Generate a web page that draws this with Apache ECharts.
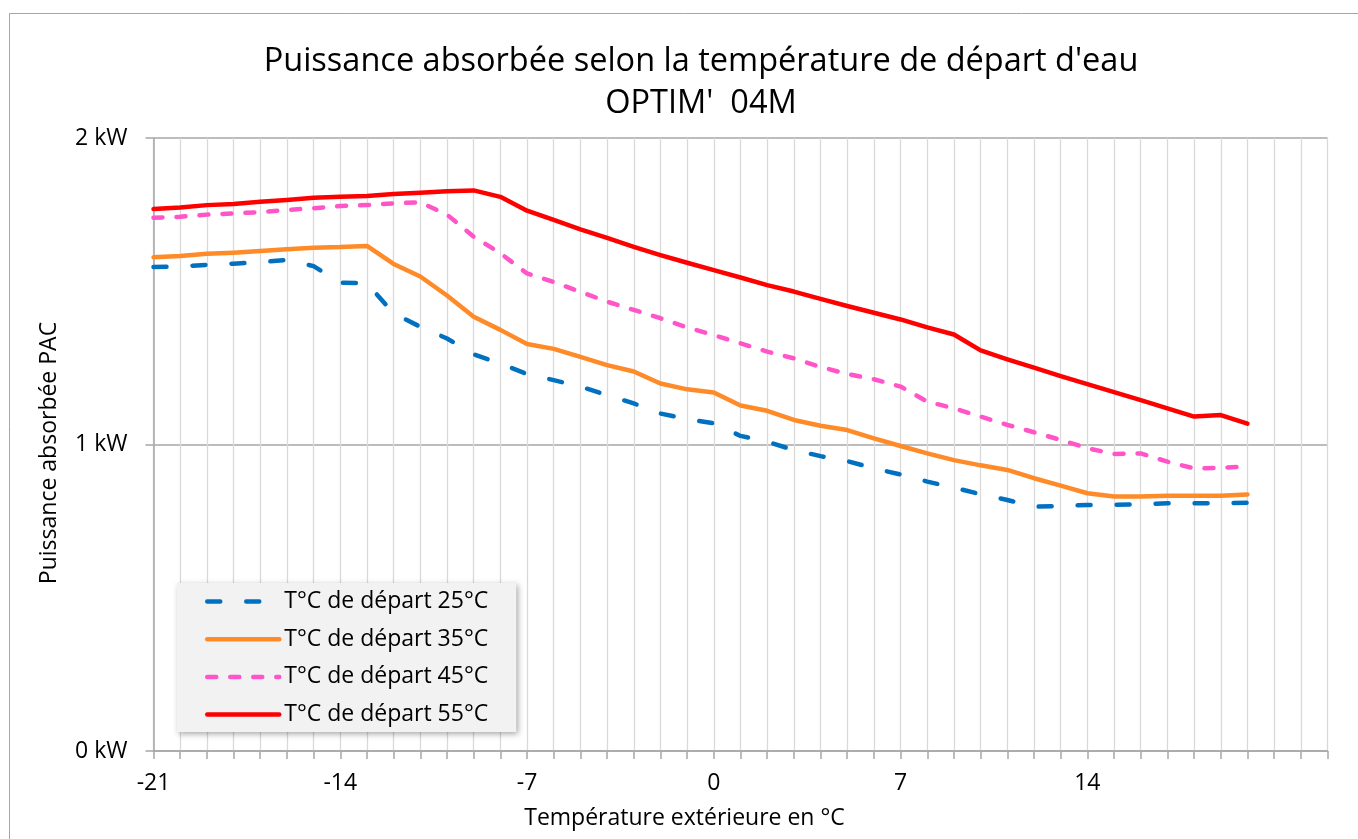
<!DOCTYPE html>
<html>
<head>
<meta charset="utf-8">
<script src="https://cdn.jsdelivr.net/npm/echarts@6/dist/echarts.min.js"></script>
<style>
html,body{margin:0;padding:0;background:#fff;}
#chart{width:1358px;height:839px;}
</style>
</head>
<body>
<div id="chart"></div>
<script>
const temperatures = [-21,-20,-19,-18,-17,-16,-15,-14,-13,-12,-11,-10,-9,-8,-7,-6,-5,-4,-3,-2,-1,0,1,2,3,4,5,6,7,8,9,10,11,12,13,14,15,16,17,18,19,20];
const seriesNames = ['T°C de départ 25°C','T°C de départ 35°C','T°C de départ 45°C','T°C de départ 55°C'];
const depart25 = [1.579,1.581,1.586,1.590,1.595,1.602,1.582,1.528,1.526,1.428,1.384,1.346,1.294,1.264,1.230,1.210,1.189,1.161,1.134,1.101,1.083,1.069,1.028,1.009,0.982,0.962,0.946,0.922,0.902,0.879,0.859,0.838,0.819,0.797,0.799,0.803,0.803,0.805,0.808,0.808,0.808,0.810];
const depart35 = [1.611,1.615,1.622,1.626,1.631,1.637,1.642,1.644,1.648,1.589,1.548,1.486,1.417,1.374,1.328,1.312,1.286,1.259,1.238,1.199,1.180,1.170,1.127,1.110,1.080,1.061,1.047,1.020,0.995,0.971,0.949,0.932,0.917,0.890,0.866,0.841,0.830,0.830,0.833,0.833,0.833,0.837];
const depart45 = [1.740,1.743,1.750,1.754,1.758,1.765,1.771,1.778,1.781,1.787,1.790,1.750,1.678,1.624,1.558,1.530,1.498,1.466,1.439,1.412,1.382,1.357,1.330,1.303,1.281,1.253,1.230,1.213,1.189,1.140,1.118,1.091,1.064,1.040,1.015,0.988,0.969,0.971,0.944,0.922,0.924,0.928];
const depart55 = [1.768,1.773,1.781,1.785,1.792,1.798,1.805,1.808,1.811,1.817,1.821,1.826,1.829,1.808,1.763,1.733,1.702,1.674,1.645,1.618,1.593,1.569,1.545,1.520,1.499,1.475,1.452,1.430,1.408,1.382,1.359,1.307,1.278,1.251,1.223,1.197,1.171,1.145,1.118,1.091,1.096,1.068];
const xTickLabels = [-21,-14,-7,0,7,14];
const yTickLabels = ['0 kW','1 kW','2 kW'];

const FONT = 'Open Sans';
function pts(vals){ return temperatures.map((t,i)=>[t, vals[i]]); }

const chart = echarts.init(document.getElementById('chart'), null, {renderer:'canvas'});
chart.setOption({
  animation:false,
  backgroundColor:'#fff',
  graphic:[{type:'rect', shape:{x:9.5,y:13.5,width:1400,height:900}, style:{fill:'none',stroke:'#a6a6a6',lineWidth:1}, z:-1}],
  title:{
    text:'Puissance absorbée selon la température de départ d\'eau\nOPTIM\'  04M',
    left:696, top:36, textAlign:'center',
    textStyle:{fontFamily:FONT,fontSize:32.5,fontWeight:'normal',color:'#000',lineHeight:42}
  },
  grid:{left:153.5, right:30.5, top:138, bottom:88, containLabel:false},
  legend:{
    orient:'vertical', left:177, top:583,
    backgroundColor:'#f2f2f2',
    shadowBlur:6, shadowColor:'rgba(0,0,0,0.35)', shadowOffsetX:2, shadowOffsetY:2,
    padding:[7,28,6,28],
    itemWidth:72, itemHeight:14, itemGap:14.7,
    itemStyle:{opacity:0},
    lineStyle:{width:4.5},
    textStyle:{fontFamily:FONT,fontSize:23,color:'#000'},
    data:seriesNames
  },
  xAxis:{
    type:'value', min:-21, max:23, interval:1,
    name:'Température extérieure en °C', nameLocation:'middle', nameGap:56,
    nameTextStyle:{fontFamily:FONT,fontSize:23,color:'#000',padding:[0,112,0,0]},
    axisLine:{show:true,onZero:false,lineStyle:{color:'#a6a6a6',width:1.5}},
    axisTick:{show:true,length:8,inside:false,lineStyle:{color:'#a6a6a6',width:1.5}},
    splitLine:{show:true,lineStyle:{color:'#d9d9d9',width:1.3}},
    axisLabel:{
      margin:21, fontFamily:FONT, fontSize:23, color:'#000',
      formatter:v=> xTickLabels.indexOf(v) >= 0 ? String(v) : ''
    }
  },
  yAxis:{
    type:'value', min:0, max:2, interval:1,
    name:'Puissance absorbée PAC', nameLocation:'middle', nameGap:93, nameRotate:90,
    nameTextStyle:{fontFamily:FONT,fontSize:23,color:'#000',padding:[0,17,0,0]},
    axisLine:{show:true,onZero:false,lineStyle:{color:'#a6a6a6',width:1.5}},
    axisTick:{show:true,length:8,lineStyle:{color:'#a6a6a6',width:1.5}},
    splitLine:{show:true,lineStyle:{color:'#a6a6a6',width:1.5}},
    axisLabel:{margin:26,fontFamily:FONT,fontSize:23,color:'#000',formatter:v=>yTickLabels[Math.round(v)]}
  },
  series:[
    {name:seriesNames[0],type:'line',data:pts(depart25),symbol:'none',
     lineStyle:{color:'#0070c0',width:4.5,type:[13,26],cap:'round',join:'round'},itemStyle:{color:'#0070c0'}},
    {name:seriesNames[1],type:'line',data:pts(depart35),symbol:'none',
     lineStyle:{color:'#ff8a28',width:4.5,cap:'round',join:'round'},itemStyle:{color:'#ff8a28'}},
    {name:seriesNames[2],type:'line',data:pts(depart45),symbol:'none',
     lineStyle:{color:'#ff55c8',width:4.5,type:[9,14],cap:'round',join:'round'},itemStyle:{color:'#ff55c8'}},
    {name:seriesNames[3],type:'line',data:pts(depart55),symbol:'none',
     lineStyle:{color:'#ff0000',width:4.5,cap:'round',join:'round'},itemStyle:{color:'#ff0000'}}
  ]
});
</script>
</body>
</html>
